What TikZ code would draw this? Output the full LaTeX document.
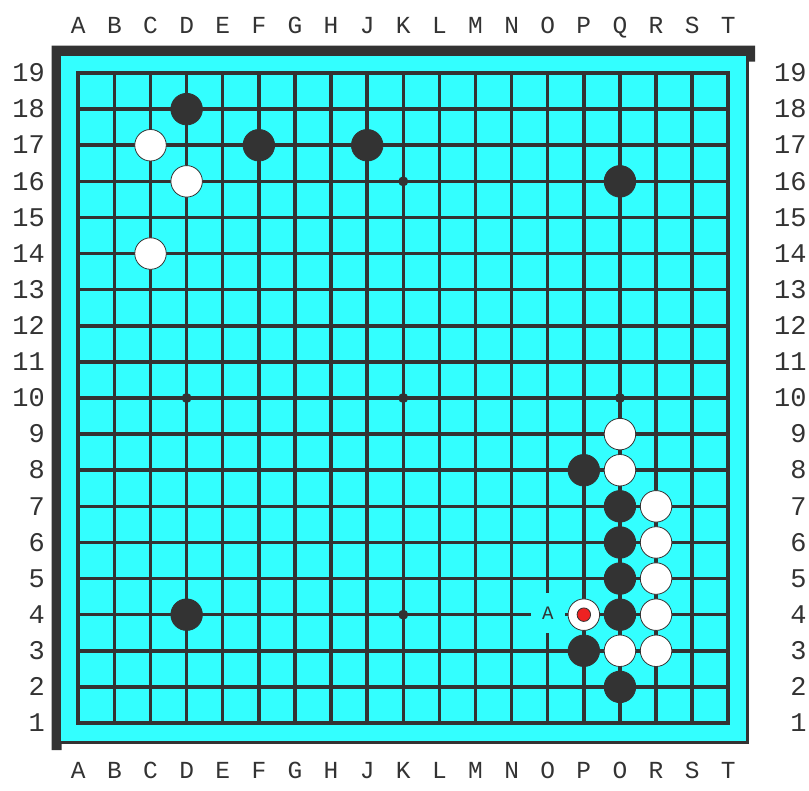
\documentclass[tikz,border=0pt]{standalone}
\usepackage{fontspec}
\usetikzlibrary{calc}
\newfontfamily\coordfont{Liberation Mono}
\definecolor{boardcyan}{HTML}{33FFFF}
\definecolor{inkdark}{HTML}{333333}
\definecolor{markred}{HTML}{EE2222}
\tikzset{
  gridline/.style={draw=inkdark, line width=3.5pt},
  blackstone/.style={circle, fill=inkdark, draw=inkdark, line width=0.8pt, minimum size=31.5pt, inner sep=0pt},
  whitestone/.style={circle, fill=white, draw=inkdark, line width=0.8pt, minimum size=31.5pt, inner sep=0pt},
  redmark/.style={circle, fill=markred, draw=inkdark, line width=0.8pt, minimum size=13.5pt, inner sep=0pt},
  starpt/.style={circle, fill=inkdark, minimum size=10pt, inner sep=0pt},
  collabel/.style={font=\coordfont\fontsize{24.5}{24.5}\selectfont, text=inkdark, inner sep=0pt, anchor=base},
  rowlabel/.style={font=\coordfont\fontsize{27}{27}\selectfont, text=inkdark, inner sep=0pt, anchor=base east},
  pointlabel/.style={font=\coordfont\fontsize{19}{19}\selectfont, text=inkdark, fill=boardcyan, inner sep=0pt, minimum width=34pt, minimum height=40pt},
}
\begin{document}
\begin{tikzpicture}[x=1pt, y=-1pt]
\useasboundingbox (0,0) rectangle (809,791);
% shadow frame
\fill[inkdark] (51.7,750) -- (51.7,45.7) -- (755,45.7) -- (755,61.7) -- (748,61.7) -- (748,55) -- (60,55) -- (60,741.7) -- (61.7,741.7) -- (61.7,750) -- cycle;
% board
\draw[fill=boardcyan, draw=inkdark, line width=2.5pt] (60,55) rectangle (747.5,742.5);
% intersections
\foreach \i in {0,...,18} {
  \foreach \r in {1,...,19} {
    \coordinate (p-\i-\r) at ({78.3+36.11*\i},{723-36.11*(\r-1)});
  }
}
% grid
\foreach \i in {1,...,17} {
  \draw[gridline] (p-\i-1) -- (p-\i-19);
}
\foreach \r in {2,...,18} {
  \draw[gridline] (p-0-\r) -- (p-18-\r);
}
\draw[gridline, line width=4pt, line join=miter] (p-0-1) rectangle (p-18-19);
% star points
\foreach \i/\r in {3/4,9/4,15/4,3/10,9/10,15/10,3/16,9/16,15/16} {
  \node[starpt] (star-\i-\r) at (p-\i-\r) {};
}
% coordinate labels
\foreach \c [count=\k from 0] in {A,B,C,D,E,F,G,H,J,K,L,M,N,O,P,Q,R,S,T} {
  \path (p-\k-19) ++(0,-39.5) node[collabel] (top-\c) {\c};
}
\foreach \c [count=\k from 0] in {A,B,C,D,E,F,G,H,J,K,L,M,N,O,P,O,R,S,T} {
  \path (p-\k-1) ++(0,55.3) node[collabel] (bot-\k) {\c};
}
\foreach \r in {1,...,19} {
  \path (p-0-\r) ++(-33.2,8.7) node[rowlabel] (left-\r) {\r};
  \path (p-18-\r) ++(78.5,8.7) node[rowlabel] (right-\r) {\r};
}
% black stones
\foreach \i/\r in {3/18,5/17,8/17,15/16,14/8,15/7,15/6,15/5,15/4,3/4,14/3,15/2} {
  \node[blackstone] (b-\i-\r) at (p-\i-\r) {};
}
% white stones
\foreach \i/\r in {2/17,3/16,2/14,15/9,15/8,16/7,16/6,16/5,16/4,14/4,15/3,16/3} {
  \node[whitestone] (w-\i-\r) at (p-\i-\r) {};
}
\node[redmark] (last) at (p-14-4) {};
\node[pointlabel] (labA) at ($(p-13-4)+(0,-1.5)$) {A};
\end{tikzpicture}
\end{document}
